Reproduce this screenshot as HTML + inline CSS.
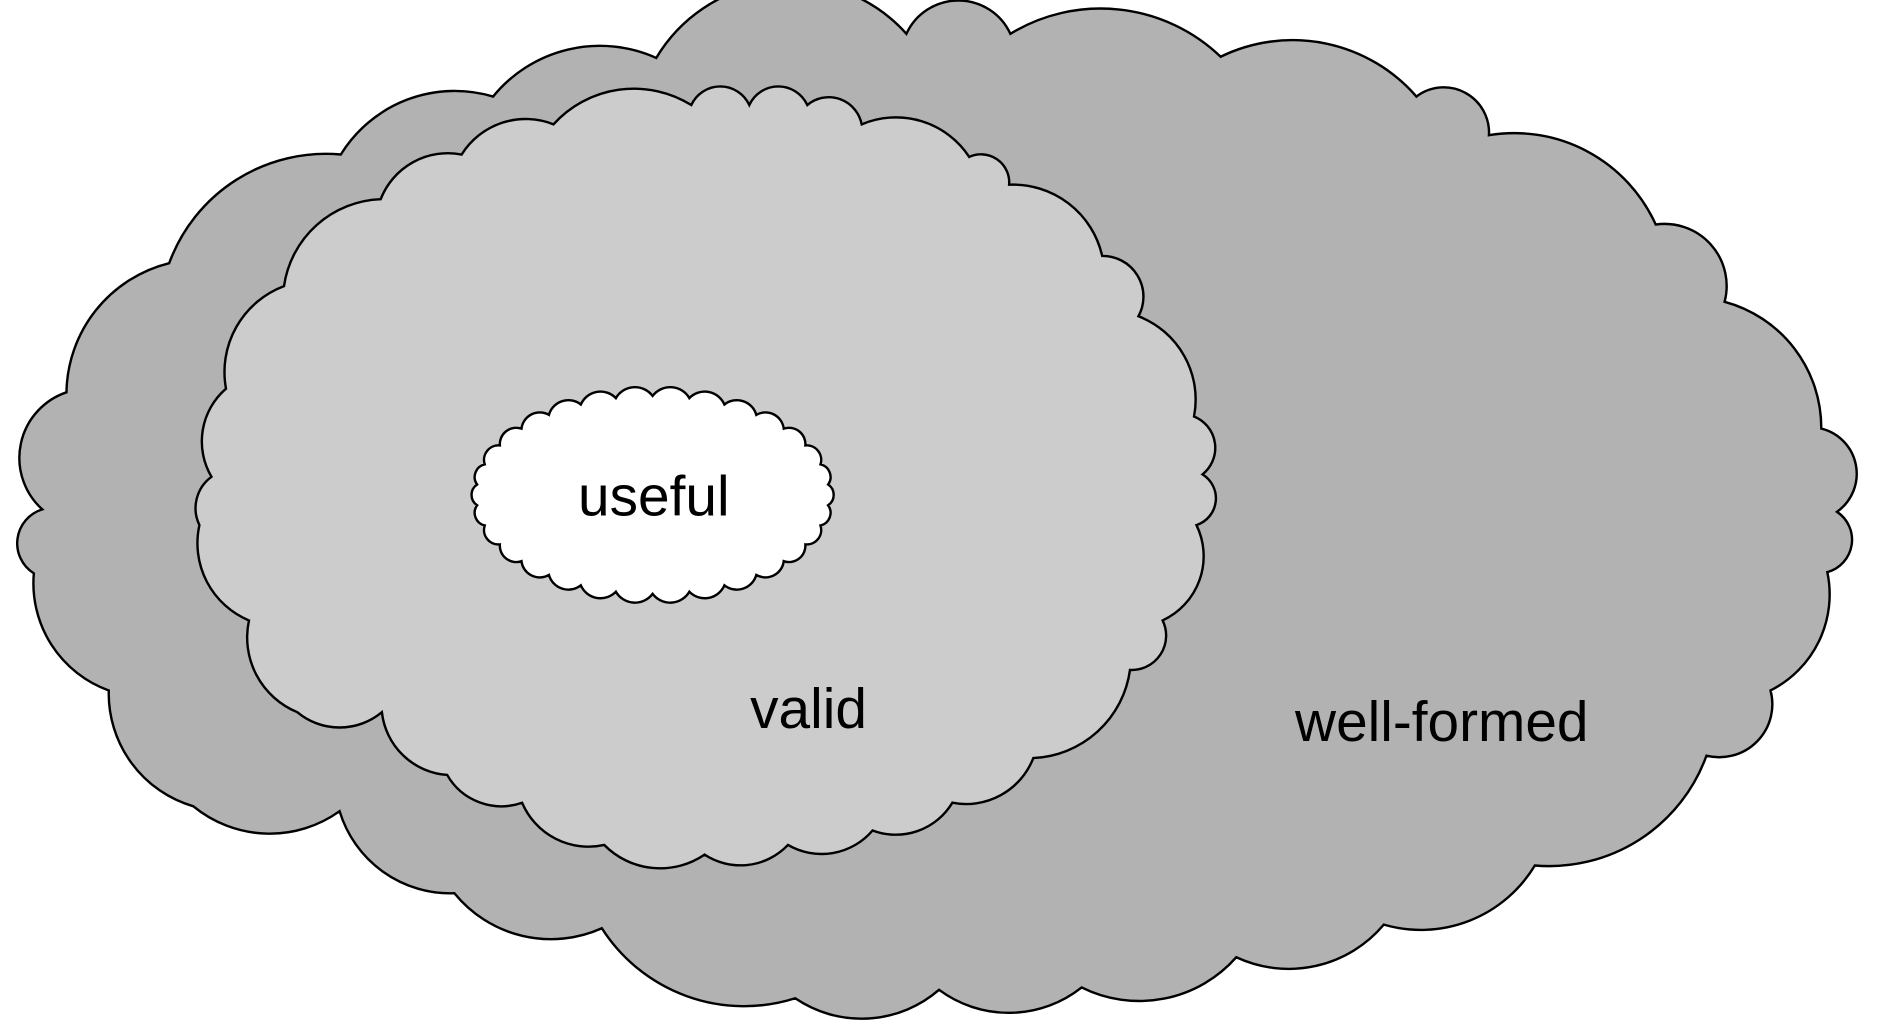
<!DOCTYPE html>
<html><head><meta charset="utf-8"><style>
html,body{margin:0;padding:0;background:#fff;}
svg{display:block;}
text{font-family:"Liberation Sans",Arial,sans-serif;font-size:47px;fill:#000;}
</style></head><body>
<svg id="s" width="1895" height="1020" viewBox="0 0 1568 845" preserveAspectRatio="none">
<path id="outer" fill="#b2b2b2" stroke="#000" stroke-width="2"/>
<path id="mid" fill="#cccccc" stroke="#000" stroke-width="2"/>
<path id="inner" fill="#ffffff" stroke="#000" stroke-width="2"/>
<text x="541" y="427" text-anchor="middle">useful</text>
<text x="669" y="603" text-anchor="middle">valid</text>
<text x="1193" y="614" text-anchor="middle">well-formed</text>
</svg>
<script>
function cloud(pts,k){
  var d="M"+pts[0][0]+" "+pts[0][1];
  for(var i=1;i<=pts.length;i++){
    var a=pts[i-1],b=pts[i%pts.length];
    var c=Math.hypot(b[0]-a[0],b[1]-a[1]);
    var kk=(pts[i%pts.length][2]||k);
    d+=" A"+(c*kk).toFixed(1)+" "+(c*kk).toFixed(1)+" 0 0 1 "+b[0]+" "+b[1];
  }
  return d+"Z";
}
var outer=[[543,48],[750,28,0.62],[836,28,0.55],[1010,47],[1172,80],[1232,112,0.55],[1370,186],[1427,250,0.6],[1507,355],[1520,424,0.55],[1512,474,0.55],[1465,572],[1412,626,0.58],[1270,717],[1145,766],[1023,793],[895,818],[777,820],[658,827],[498,769],[376,740],[281,672],[160,668],[90,572],[28,475],[35,422,0.55],[55,325,0.58],[140,218],[282,128],[408,80]];
var mid=[[458,103],[572,87],[620,87,0.55],[668,87,0.55],[713,103,0.58],[802,130],[835,153,0.58],[912,212],[942,262,0.58],[988,345],[995,393,0.58],[990,435,0.55],[962,514,0.7],[935,555,0.58],[855,628],[788,665],[722,688],[652,700],[583,708],[500,700],[432,665],[370,642],[316,590],[246,590],[206,514],[165,435],[175,395],[187,322],[235,237],[315,165],[382,128]];
document.getElementById("outer").setAttribute("d",cloud(outer,0.82));
document.getElementById("mid").setAttribute("d",cloud(mid,0.78));
var inner=[],N=30,cx=540,cy=410,rx=146,ry=82;
for(var i=0;i<N;i++){var t=-Math.PI/2+i*2*Math.PI/N;inner.push([+(cx+rx*Math.cos(t)).toFixed(1),+(cy+ry*Math.sin(t)).toFixed(1)]);}
document.getElementById("inner").setAttribute("d",cloud(inner,0.6));
</script>
</body></html>
